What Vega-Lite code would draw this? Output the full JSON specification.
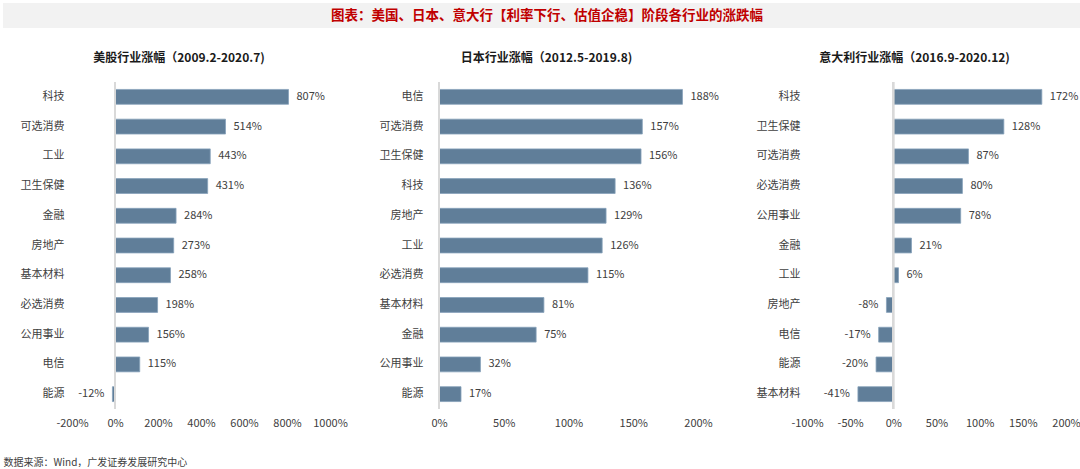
{
  "$schema": "https://vega.github.io/schema/vega-lite/v6.json",
  "padding": {"left": 2, "top": 3, "right": 0, "bottom": 0},
  "background": "white",
  "config": {
    "font": "Noto Sans CJK SC",
    "view": {"stroke": null},
    "locale": {"number": {"decimal": ".", "thousands": ",", "grouping": [3], "currency": ["", ""], "minus": "-"}},
    "axis": {"labelFont": "Noto Sans CJK SC", "labelColor": "#404040", "labelFontSize": 11, "grid": false, "ticks": false, "tickSize": 0, "domain": false, "labelFlush": false},
    "title": {"font": "Noto Sans CJK SC"}
  },
  "datasets": {
    "us": [
      {"industry": "科技", "value": 8.07},
      {"industry": "可选消费", "value": 5.14},
      {"industry": "工业", "value": 4.43},
      {"industry": "卫生保健", "value": 4.31},
      {"industry": "金融", "value": 2.84},
      {"industry": "房地产", "value": 2.73},
      {"industry": "基本材料", "value": 2.58},
      {"industry": "必选消费", "value": 1.98},
      {"industry": "公用事业", "value": 1.56},
      {"industry": "电信", "value": 1.15},
      {"industry": "能源", "value": -0.12}
    ],
    "jp": [
      {"industry": "电信", "value": 1.88},
      {"industry": "可选消费", "value": 1.57},
      {"industry": "卫生保健", "value": 1.56},
      {"industry": "科技", "value": 1.36},
      {"industry": "房地产", "value": 1.29},
      {"industry": "工业", "value": 1.26},
      {"industry": "必选消费", "value": 1.15},
      {"industry": "基本材料", "value": 0.81},
      {"industry": "金融", "value": 0.75},
      {"industry": "公用事业", "value": 0.32},
      {"industry": "能源", "value": 0.17}
    ],
    "it": [
      {"industry": "科技", "value": 1.72},
      {"industry": "卫生保健", "value": 1.28},
      {"industry": "可选消费", "value": 0.87},
      {"industry": "必选消费", "value": 0.80},
      {"industry": "公用事业", "value": 0.78},
      {"industry": "金融", "value": 0.21},
      {"industry": "工业", "value": 0.06},
      {"industry": "房地产", "value": -0.08},
      {"industry": "电信", "value": -0.17},
      {"industry": "能源", "value": -0.20},
      {"industry": "基本材料", "value": -0.41}
    ],
    "header": [{"t": "图表：美国、日本、意大行【利率下行、估值企稳】阶段各行业的涨跌幅"}]
  },
  "vconcat": [
    {
      "width": 1009,
      "height": 25,
      "data": {"name": "header"},
      "layer": [
        {
          "mark": {"type": "rect", "color": "#f2f2f2"},
          "encoding": {
            "x": {"datum": -0.0684, "type": "quantitative", "scale": {"domain": [0, 1], "nice": false, "zero": false}, "axis": null},
            "x2": {"datum": 1},
            "y": {"datum": 0, "type": "quantitative", "scale": {"domain": [0, 1], "nice": false}, "axis": null},
            "y2": {"datum": 1}
          }
        },
        {
          "mark": {"type": "text", "align": "center", "baseline": "middle", "color": "#c00000", "fontWeight": "bold", "fontSize": 13.5},
          "encoding": {
            "text": {"field": "t"},
            "x": {"datum": 0.4708, "type": "quantitative"},
            "y": {"datum": 0.5, "type": "quantitative"}
          }
        }
      ]
    },
    {
      "hconcat": [
        {
          "width": 258,
          "height": 327,
          "title": {"text": "美股行业涨幅（2009.2-2020.7)", "frame": "group", "dx": -22, "offset": 16, "fontSize": 12, "fontWeight": "bold", "color": "#1a1a1a"},
          "data": {"name": "us"},
          "layer": [
            {
              "mark": {"type": "bar", "color": "#607e99", "stroke": "#86a1ba", "strokeWidth": 0.8},
              "encoding": {
                "y": {"field": "industry", "type": "nominal", "sort": null, "scale": {"paddingInner": 0.5, "paddingOuter": 0.25}, "axis": {"title": null, "labelPadding": 8}},
                "x": {"field": "value", "type": "quantitative", "scale": {"domain": [-2, 10], "nice": false, "zero": false}, "axis": {"values": [-2, 0, 2, 4, 6, 8, 10], "format": ".0%", "labelPadding": 8, "title": "数据来源：Wind，广发证券发展研究中心", "titleX": -69, "titleY": 53, "titleAlign": "left", "titleBaseline": "middle", "titleAnchor": null, "titleFontWeight": "normal", "titleFontSize": 10, "titleColor": "#404040"}}
              }
            },
            {
              "mark": {"type": "text", "fontSize": 11, "color": "#404040", "baseline": "middle", "align": {"expr": "datum.value < 0 ? 'right' : 'left'"}, "dx": {"expr": "datum.value < 0 ? -8 : 8"}},
              "encoding": {
                "y": {"field": "industry", "type": "nominal", "sort": null},
                "x": {"field": "value", "type": "quantitative"},
                "text": {"field": "value", "format": ".0%"}
              }
            },
            {
              "mark": {"type": "rule", "color": "#d9d9d9", "strokeWidth": 1.5},
              "encoding": {"x": {"datum": 0}}
            }
          ]
        },
        {
          "width": 259,
          "height": 327,
          "title": {"text": "日本行业涨幅（2012.5-2019.8)", "frame": "group", "dx": -22, "offset": 16, "fontSize": 12, "fontWeight": "bold", "color": "#1a1a1a"},
          "data": {"name": "jp"},
          "layer": [
            {
              "mark": {"type": "bar", "color": "#607e99", "stroke": "#86a1ba", "strokeWidth": 0.8},
              "encoding": {
                "y": {"field": "industry", "type": "nominal", "sort": null, "scale": {"paddingInner": 0.5, "paddingOuter": 0.25}, "axis": {"title": null, "labelPadding": 16}},
                "x": {"field": "value", "type": "quantitative", "scale": {"domain": [0, 2], "nice": false}, "axis": {"values": [0, 0.5, 1, 1.5, 2], "format": ".0%", "labelPadding": 8, "title": null}}
              }
            },
            {
              "mark": {"type": "text", "fontSize": 11, "color": "#404040", "baseline": "middle", "align": {"expr": "datum.value < 0 ? 'right' : 'left'"}, "dx": {"expr": "datum.value < 0 ? -8 : 8"}},
              "encoding": {
                "y": {"field": "industry", "type": "nominal", "sort": null},
                "x": {"field": "value", "type": "quantitative"},
                "text": {"field": "value", "format": ".0%"}
              }
            },
            {
              "mark": {"type": "rule", "color": "#d9d9d9", "strokeWidth": 1.5},
              "encoding": {"x": {"datum": 0}}
            }
          ]
        },
        {
          "width": 259,
          "height": 327,
          "title": {"text": "意大利行业涨幅（2016.9-2020.12)", "frame": "group", "dx": -22, "offset": 16, "fontSize": 12, "fontWeight": "bold", "color": "#1a1a1a"},
          "data": {"name": "it"},
          "layer": [
            {
              "mark": {"type": "bar", "color": "#607e99", "stroke": "#86a1ba", "strokeWidth": 0.8},
              "encoding": {
                "y": {"field": "industry", "type": "nominal", "sort": null, "scale": {"paddingInner": 0.5, "paddingOuter": 0.25}, "axis": {"title": null, "labelPadding": 7}},
                "x": {"field": "value", "type": "quantitative", "scale": {"domain": [-1, 2], "nice": false, "zero": false}, "axis": {"values": [-1, -0.5, 0, 0.5, 1, 1.5, 2], "format": ".0%", "labelPadding": 8, "title": null}}
              }
            },
            {
              "mark": {"type": "text", "fontSize": 11, "color": "#404040", "baseline": "middle", "align": {"expr": "datum.value < 0 ? 'right' : 'left'"}, "dx": {"expr": "datum.value < 0 ? -8 : 8"}},
              "encoding": {
                "y": {"field": "industry", "type": "nominal", "sort": null},
                "x": {"field": "value", "type": "quantitative"},
                "text": {"field": "value", "format": ".0%"}
              }
            },
            {
              "mark": {"type": "rule", "color": "#d9d9d9", "strokeWidth": 1.5},
              "encoding": {"x": {"datum": 0}}
            }
          ]
        }
      ],
      "bounds": "flush",
      "spacing": 109,
      "resolve": {"scale": {"x": "independent", "y": "independent"}}
    }
  ],
  "align": "none",
  "spacing": 24
}
